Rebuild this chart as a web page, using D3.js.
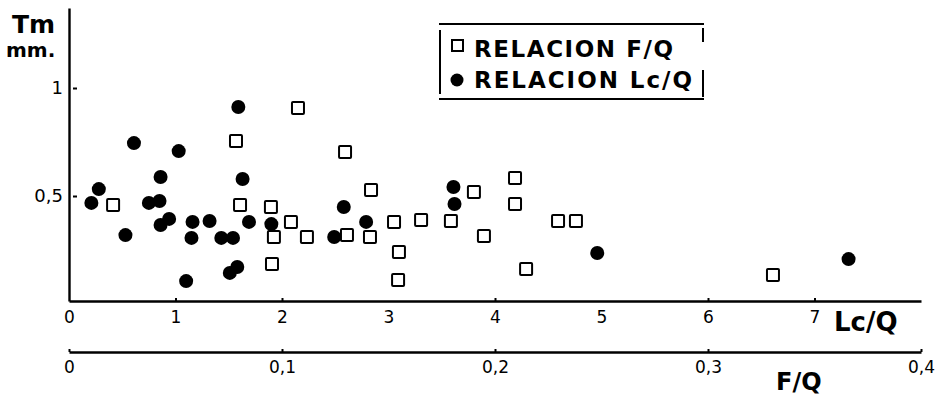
<!DOCTYPE html>
<html>
<head>
<meta charset="utf-8">
<script src="https://cdn.jsdelivr.net/npm/d3@7"></script>
<style>
  body { margin: 0; background: #fff; }
  text { font-family: "DejaVu Sans", sans-serif; fill: #000; }
</style>
</head>
<body>
<div id="chart"></div>
<script>
const width = 935,
  height = 397;

// relacion Lc/Q  (filled circles)
const lcq = [0.61, 1.03, 1.59, 0.28, 0.21, 0.53, 0.86, 0.75, 0.85, 0.86, 0.94, 1.16, 1.32, 1.15, 1.10,
  1.43, 1.54, 1.63, 1.69, 1.90, 1.51, 1.58, 2.58, 2.79, 2.49, 3.61, 3.62, 4.96, 7.32];
const lcq_tm = [0.745, 0.708, 0.912, 0.532, 0.468, 0.319, 0.588, 0.468, 0.477, 0.366, 0.394, 0.380, 0.384, 0.306, 0.106,
  0.306, 0.306, 0.579, 0.380, 0.370, 0.144, 0.171, 0.449, 0.380, 0.310, 0.542, 0.463, 0.236, 0.208];

// relacion F/Q  (open squares)
const fq = [0.1075, 0.0784, 0.1296, 0.0207, 0.0803, 0.0948, 0.1042, 0.1117, 0.0962, 0.0953, 0.1418, 0.1305, 0.1526,
  0.1653, 0.1413, 0.1549, 0.1545, 0.1793, 0.1901, 0.2094, 0.2094, 0.1948, 0.2296, 0.2380, 0.2146, 0.3305];
const fq_tm = [0.907, 0.755, 0.704, 0.458, 0.458, 0.449, 0.380, 0.310, 0.310, 0.185, 0.528, 0.319, 0.380,
  0.389, 0.310, 0.241, 0.111, 0.384, 0.519, 0.583, 0.463, 0.315, 0.384, 0.384, 0.162, 0.134];

const lcTicks = [0, 1, 2, 3, 4, 5, 6, 7];
const lcMarked = [1, 2, 4, 6, 7];
const fqTicks = [0, 0.1, 0.2, 0.3, 0.4];
const fqLabels = ["0", "0,1", "0,2", "0,3", "0,4"];
const tmTicks = [0.5, 1];
const tmLabels = ["0,5", "1"];

const svg = d3.select("#chart").append("svg")
  .attr("width", width)
  .attr("height", height);

// scales
const x_lc = d3.scaleLinear().domain([0, 8]).range([69, 921]);
const x_fq = d3.scaleLinear().domain([0, 0.4]).range([69, 921]);
const y = d3.scaleLinear().domain([0.0139, 1.3704]).range([301, 8]);

// Lc/Q axis
const lcAxis = svg.append("g")
  .attr("transform", "translate(0,301)")
  .call(d3.axisBottom(x_lc).tickValues(lcTicks).tickFormat(d3.format("d"))
    .tickSizeInner(-8).tickSizeOuter(0).tickPadding(10));
lcAxis.select(".domain").attr("stroke-width", 2.4);
lcAxis.selectAll(".tick line").attr("stroke-width", 2).attr("y2", -3)
  .attr("opacity", d => lcMarked.includes(d) ? 1 : 0);
lcAxis.selectAll(".tick text").style("font-size", "17px");

svg.append("text")
  .attr("x", 834).attr("y", 331)
  .style("font-size", "26px").style("font-weight", "bold")
  .text("Lc/Q");

// F/Q axis
const fqAxis = svg.append("g")
  .attr("transform", "translate(0,352)")
  .call(d3.axisBottom(x_fq).tickValues(fqTicks).tickFormat((d, i) => fqLabels[i])
    .tickSizeInner(-8).tickSizeOuter(0).tickPadding(9));
fqAxis.select(".domain").attr("stroke-width", 2.4);
fqAxis.selectAll(".tick line").attr("stroke-width", 2).attr("y2", -3);
fqAxis.selectAll(".tick text").style("font-size", "17px");

svg.append("text")
  .attr("x", 776).attr("y", 390)
  .style("font-size", "24px").style("font-weight", "bold")
  .text("F/Q");

// Tm axis
const yAxis = svg.append("g")
  .attr("transform", "translate(69,0)")
  .call(d3.axisLeft(y).tickValues(tmTicks).tickFormat((d, i) => tmLabels[i])
    .tickSizeInner(-8).tickSizeOuter(0).tickPadding(6));
yAxis.select(".domain").attr("stroke-width", 2.4);
yAxis.selectAll(".tick line").attr("stroke-width", 2).attr("x1", 4);
yAxis.selectAll(".tick text").style("font-size", "18px");

svg.append("text")
  .attr("x", 12).attr("y", 33)
  .style("font-size", "25px").style("font-weight", "bold")
  .text("Tm");
svg.append("text")
  .attr("x", 6).attr("y", 57)
  .style("font-size", "20px").style("font-weight", "bold")
  .text("mm.");

// points
svg.append("g").selectAll("rect")
  .data(fq.map((d, i) => ({ x: d, tm: fq_tm[i] })))
  .join("rect")
  .attr("x", d => x_fq(d.x) - 6)
  .attr("y", d => y(d.tm) - 6)
  .attr("width", 12)
  .attr("height", 12)
  .attr("rx", 1)
  .attr("fill", "#fff")
  .attr("stroke", "#000")
  .attr("stroke-width", 2);

svg.append("g").selectAll("circle")
  .data(lcq.map((d, i) => ({ x: d, tm: lcq_tm[i] })))
  .join("circle")
  .attr("cx", d => x_lc(d.x))
  .attr("cy", d => y(d.tm))
  .attr("r", 7)
  .attr("fill", "#000");

// legend
const legend = svg.append("g");
legend.append("line").attr("x1", 439).attr("x2", 704).attr("y1", 24).attr("y2", 24)
  .attr("stroke", "#000").attr("stroke-width", 2);
legend.append("line").attr("x1", 439).attr("x2", 704).attr("y1", 99).attr("y2", 99)
  .attr("stroke", "#000").attr("stroke-width", 2);
legend.append("line").attr("x1", 440).attr("x2", 440).attr("y1", 30).attr("y2", 94)
  .attr("stroke", "#000").attr("stroke-width", 2);
legend.append("line").attr("x1", 703).attr("x2", 703).attr("y1", 28).attr("y2", 97)
  .attr("stroke", "#000").attr("stroke-width", 2).attr("stroke-dasharray", "14,28,27");

legend.append("rect")
  .attr("x", 452).attr("y", 40).attr("width", 11).attr("height", 11)
  .attr("fill", "#fff").attr("stroke", "#000").attr("stroke-width", 2);
legend.append("circle")
  .attr("cx", 457).attr("cy", 80).attr("r", 6.5).attr("fill", "#000");

legend.append("text")
  .attr("x", 474).attr("y", 57)
  .style("font-size", "23px").style("font-weight", "bold")
  .attr("textLength", 199).attr("lengthAdjust", "spacing")
  .text("RELACION F/Q");
legend.append("text")
  .attr("x", 474).attr("y", 88)
  .style("font-size", "23px").style("font-weight", "bold")
  .attr("textLength", 218).attr("lengthAdjust", "spacing")
  .text("RELACION Lc/Q");
</script>
</body>
</html>
